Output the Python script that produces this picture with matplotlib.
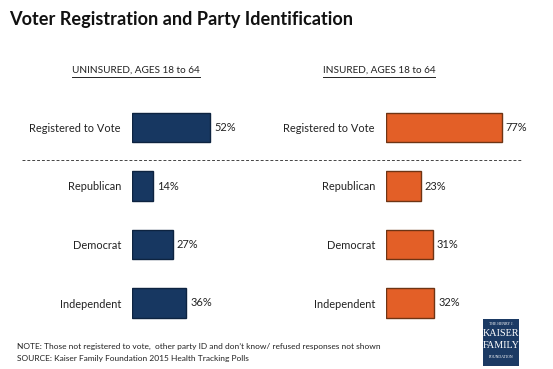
import matplotlib.pyplot as plt
from matplotlib.lines import Line2D
from matplotlib.patches import Rectangle

plt.rcParams['font.family'] = ['Lato', 'DejaVu Sans']

categories = ['Registered to Vote', 'Republican', 'Democrat', 'Independent']
uninsured = [52, 14, 27, 36]
insured = [77, 23, 31, 32]
panel_titles = ['UNINSURED, AGES 18 to 64', 'INSURED, AGES 18 to 64']

W, H = 553, 369
fig = plt.figure(figsize=(W / 100, H / 100), dpi=100)
fig.patch.set_facecolor('white')


def px(x, y):
    # pixel coords (top-left origin) -> figure fraction
    return x / W, 1 - y / H


def panel(left_px, values, color, edge):
    # 100% = 150 px wide, rows 58.5 px apart, first row centred at y=127.5
    y_top = 127.5 - 29.25
    y_bot = 303 + 29.25
    ax = fig.add_axes([left_px / W, 1 - y_bot / H, 150 / W, (y_bot - y_top) / H])
    ax.barh(range(len(values)), values, height=0.5, color=color,
            edgecolor=edge, linewidth=1)
    ax.set_xlim(0, 100)
    ax.set_ylim(3.5, -0.5)
    ax.set_yticks(range(len(categories)))
    ax.set_yticklabels(categories, fontsize=7.9, color='#222222')
    ax.tick_params(axis='y', length=0, pad=8)
    ax.set_xticks([])
    for s in ax.spines.values():
        s.set_visible(False)
    ax.patch.set_alpha(0)
    for i, v in enumerate(values):
        ax.annotate(f'{v}%', xy=(v, i), xytext=(3, 0), textcoords='offset points',
                    va='center', ha='left', fontsize=7.9, color='#222222')
    return ax


panel(132, uninsured, '#173761', '#0d2340')
panel(386, insured, '#e35f27', '#6e3414')

# title
fig.text(*px(9, 19), 'Voter Registration and Party Identification',
         fontsize=13.1, fontweight='bold', va='center', ha='left', color='#111111')

# panel headers, underlined
fig.canvas.draw()
renderer = fig.canvas.get_renderer()
for cx, label in zip([136, 379], panel_titles):
    t = fig.text(*px(cx, 70), label, fontsize=7.2, ha='center', va='center',
                 color='#222222')
    bb = t.get_window_extent(renderer)
    fig.add_artist(Line2D([bb.x0 / W, bb.x1 / W], [1 - 76.5 / H, 1 - 76.5 / H],
                          color='#222222', linewidth=0.7))

# dashed separator
fig.add_artist(Line2D([22 / W, 522 / W], [1 - 160 / H, 1 - 160 / H],
                      color='#444444', linewidth=0.7, linestyle=(0, (3, 2))))

# notes
fig.text(*px(17, 346), "NOTE: Those not registered to vote,  other party ID and don\u2019t know/ refused responses not shown",
         fontsize=6.0, ha='left', va='center', color='#222222')
fig.text(*px(17, 358), 'SOURCE: Kaiser Family Foundation 2015 Health Tracking Polls',
         fontsize=6.0, ha='left', va='center', color='#222222')

# logo block
x0, y0 = px(483, 366)
fig.add_artist(Rectangle((x0, y0), 36 / W, 47 / H, transform=fig.transFigure,
                         facecolor='#1b3a64', edgecolor='none'))
serif = ['Liberation Serif', 'DejaVu Serif']
fig.text(*px(501, 324), 'THE HENRY J.', fontsize=2.8, family=serif, color='white',
         ha='center', va='center')
fig.text(*px(501, 334), 'KAISER', fontsize=7.3, family=serif, color='white',
         ha='center', va='center')
fig.text(*px(501, 345), 'FAMILY', fontsize=7.3, family=serif, color='white',
         ha='center', va='center')
fig.text(*px(501, 357), 'FOUNDATION', fontsize=2.8, family=serif, color='white',
         ha='center', va='center')

fig.savefig('out.png', dpi=100)
